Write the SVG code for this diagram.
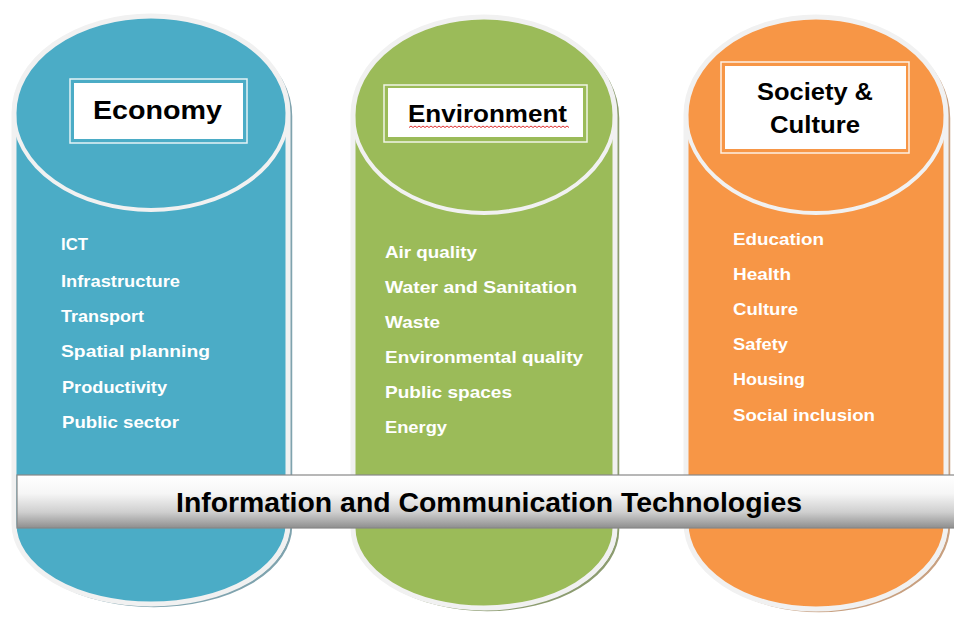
<svg xmlns="http://www.w3.org/2000/svg" width="954" height="619" viewBox="0 0 954 619">
<defs>
<linearGradient id="barg" x1="0" y1="0" x2="0" y2="1">
<stop offset="0" stop-color="#ffffff"/>
<stop offset="0.35" stop-color="#f6f6f6"/>
<stop offset="0.7" stop-color="#cfcfcf"/>
<stop offset="1" stop-color="#8e8e8e"/>
</linearGradient>
</defs>
<style>
.body{stroke:#f1f1f1;stroke-width:5;stroke-linejoin:round}
.rim{fill:none;stroke:#f1f1f1;stroke-width:4}
.shadow{fill:none;stroke-width:2.5}
.frame{fill:none;stroke:#ffffff;stroke-opacity:0.85;stroke-width:1.5}
.box{fill:#ffffff}
.head{font-family:"Liberation Sans",Arial,sans-serif;font-weight:bold;fill:#000000;text-anchor:middle}
.item{font-family:"Liberation Sans",Arial,sans-serif;font-weight:bold;font-size:16.5px;fill:#ffffff}
.bartext{font-family:"Liberation Sans",Arial,sans-serif;font-weight:bold;font-size:27px;fill:#000000}
</style>
<rect width="954" height="619" fill="#ffffff"/>

<g id="economy">
<path class="shadow" stroke="#7fa3ae" d="M17,116 A137,97 0 0 1 291,116 L291,526 A137,80 0 0 1 17,526 Z"/>
<path class="body" fill="#4bacc6" d="M14,113 A137,97 0 0 1 288,113 L288,524 A137,80 0 0 1 14,524 Z"/>
<path class="rim" d="M14,113 A137,97 0 0 0 288,113"/>
<rect class="frame" x="70" y="79" width="177" height="64"/>
<rect class="box" x="74" y="83" width="169" height="56"/>
<text class="head" x="157.5" y="119" font-size="25" textLength="129" lengthAdjust="spacingAndGlyphs">Economy</text>
<text class="item" x="61" y="250" textLength="27" lengthAdjust="spacingAndGlyphs">ICT</text>
<text class="item" x="61" y="287" textLength="119" lengthAdjust="spacingAndGlyphs">Infrastructure</text>
<text class="item" x="61" y="322" textLength="83" lengthAdjust="spacingAndGlyphs">Transport</text>
<text class="item" x="61" y="357" textLength="149" lengthAdjust="spacingAndGlyphs">Spatial planning</text>
<text class="item" x="62" y="393" textLength="105" lengthAdjust="spacingAndGlyphs">Productivity</text>
<text class="item" x="62" y="428" textLength="117" lengthAdjust="spacingAndGlyphs">Public sector</text>
</g>

<g id="environment">
<path class="shadow" stroke="#8c9c70" d="M356,118 A131,98 0 0 1 618,118 L618,530 A131,80 0 0 1 356,530 Z"/>
<path class="body" fill="#9bbb59" d="M353,115 A131,98 0 0 1 615,115 L615,528 A131,80 0 0 1 353,528 Z"/>
<path class="rim" d="M353,115 A131,98 0 0 0 615,115"/>
<rect class="frame" x="384" y="85" width="203" height="57"/>
<rect class="box" x="388" y="88" width="195" height="49"/>
<text class="head" x="487.5" y="122" font-size="23" textLength="159" lengthAdjust="spacingAndGlyphs">Environment</text>
<path fill="none" stroke="#e03030" stroke-width="1" d="M409,127.5 l2,-1.5 2,1.5 2,-1.5 2,1.5 2,-1.5 2,1.5 2,-1.5 2,1.5 2,-1.5 2,1.5 2,-1.5 2,1.5 2,-1.5 2,1.5 2,-1.5 2,1.5 2,-1.5 2,1.5 2,-1.5 2,1.5 2,-1.5 2,1.5 2,-1.5 2,1.5 2,-1.5 2,1.5 2,-1.5 2,1.5 2,-1.5 2,1.5 2,-1.5 2,1.5 2,-1.5 2,1.5 2,-1.5 2,1.5 2,-1.5 2,1.5 2,-1.5 2,1.5 2,-1.5 2,1.5 2,-1.5 2,1.5 2,-1.5 2,1.5 2,-1.5 2,1.5 2,-1.5 2,1.5 2,-1.5 2,1.5 2,-1.5 2,1.5 2,-1.5 2,1.5 2,-1.5 2,1.5 2,-1.5 2,1.5 2,-1.5 2,1.5 2,-1.5 2,1.5 2,-1.5 2,1.5 2,-1.5 2,1.5 2,-1.5 2,1.5 2,-1.5 2,1.5 2,-1.5 2,1.5 2,-1.5 2,1.5 2,-1.5 2,1.5 2,-1.5 2,1.5"/>
<text class="item" x="385" y="258" textLength="92" lengthAdjust="spacingAndGlyphs">Air quality</text>
<text class="item" x="385" y="293" textLength="192" lengthAdjust="spacingAndGlyphs">Water and Sanitation</text>
<text class="item" x="385" y="328" textLength="55" lengthAdjust="spacingAndGlyphs">Waste</text>
<text class="item" x="385" y="363" textLength="198" lengthAdjust="spacingAndGlyphs">Environmental quality</text>
<text class="item" x="385" y="398" textLength="127" lengthAdjust="spacingAndGlyphs">Public spaces</text>
<text class="item" x="385" y="433" textLength="62" lengthAdjust="spacingAndGlyphs">Energy</text>
</g>

<g id="society">
<path class="shadow" stroke="#c8a080" d="M689,118 A130,98 0 0 1 949,118 L949,525 A130,86 0 0 1 689,525 Z"/>
<path class="body" fill="#f79646" d="M686,115 A130,98 0 0 1 946,115 L946,523 A130,86 0 0 1 686,523 Z"/>
<path class="rim" d="M686,115 A130,98 0 0 0 946,115"/>
<rect class="frame" x="721" y="62" width="188" height="91"/>
<rect class="box" x="725" y="66" width="181" height="83"/>
<text class="head" x="815" y="100" font-size="23" textLength="116" lengthAdjust="spacingAndGlyphs">Society &amp;</text>
<text class="head" x="815" y="133" font-size="23" textLength="90" lengthAdjust="spacingAndGlyphs">Culture</text>
<text class="item" x="733" y="245" textLength="91" lengthAdjust="spacingAndGlyphs">Education</text>
<text class="item" x="733" y="280" textLength="58" lengthAdjust="spacingAndGlyphs">Health</text>
<text class="item" x="733" y="315" textLength="65" lengthAdjust="spacingAndGlyphs">Culture</text>
<text class="item" x="733" y="350" textLength="55" lengthAdjust="spacingAndGlyphs">Safety</text>
<text class="item" x="733" y="385" textLength="72" lengthAdjust="spacingAndGlyphs">Housing</text>
<text class="item" x="733" y="421" textLength="142" lengthAdjust="spacingAndGlyphs">Social inclusion</text>
</g>

<g id="ict-bar">
<rect x="17" y="475" width="938" height="53" fill="url(#barg)" stroke="#888888" stroke-width="1.2"/>
<text class="bartext" x="176" y="512" textLength="626" lengthAdjust="spacingAndGlyphs">Information and Communication Technologies</text>
</g>
<g id="connectors"/>
</svg>
